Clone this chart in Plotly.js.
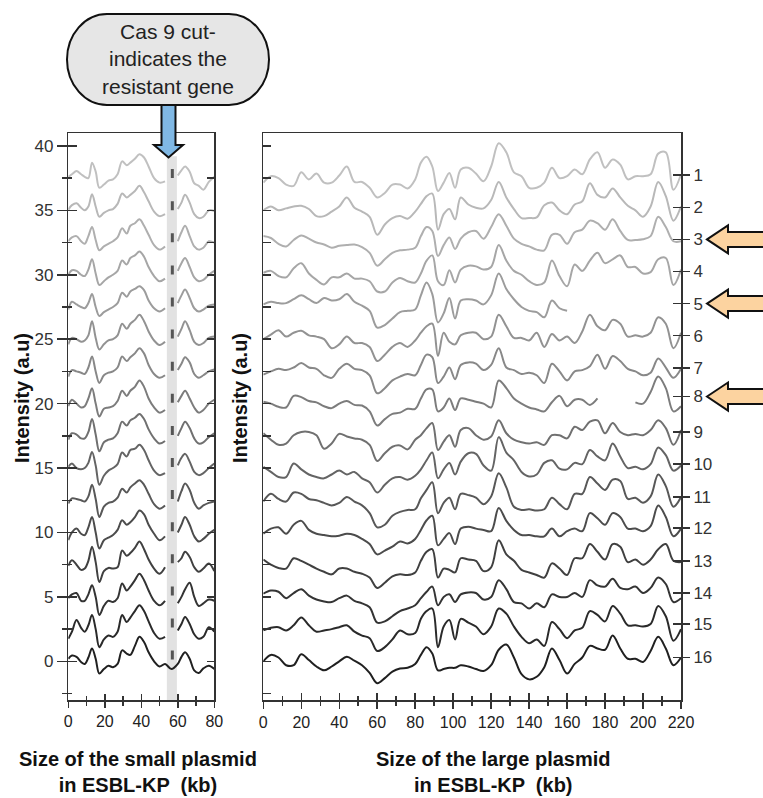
<!DOCTYPE html>
<html><head><meta charset="utf-8">
<script src="https://cdn.plot.ly/plotly-3.0.1.min.js"></script>
<style>html,body{margin:0;padding:0;background:#fff;}#chart{width:763px;height:798px;}</style>
</head><body><div id="chart"></div>
<script>
// ---------- DATA ----------
// small plasmid (left panel): size in kb, intensity relative to each sample's baseline
const smallSizeKb = [0,2,4.5,7,9,11,13,15,17,19.5,22,24.5,27,29.5,32,34,36.5,39,41.5,44,47,50,53,56.5,60,62,64,66.5,69,71.5,74,77,80];
const small01 = [0.1,0.3,0.55,0.3,0.1,0,1.2,0.5,-0.75,-0.5,-0.2,-0.1,0.3,1.3,1.0,1.2,1.5,1.85,1.6,0.9,0,-0.35,-0.25,null,0.2,0.6,0.9,0.5,-0.4,-0.6,-0.9,-0.3,0.1];
const small02 = [0.05,0.4,0.55,0.2,0,0.3,1.25,0.3,-0.5,-0.2,0,0.1,0.5,1.3,1.0,1.2,1.5,1.9,1.4,0.7,-0.1,-0.45,-0.3,null,0.1,0.6,1.2,0.6,-0.3,-0.6,-0.5,0,-0.05];
const small03 = [0.1,0.4,0.5,0.1,-0.1,0.5,1.2,0.2,-0.6,-0.3,-0.1,0.1,0.4,1.1,0.7,1.3,1.5,1.8,1.3,0.6,-0.2,-0.55,-0.3,null,0.1,0.8,1.3,0.5,-0.3,-0.55,-0.4,0.1,0];
const small04 = [0,0.35,0.3,0,-0.1,0.4,1.2,0.1,-0.8,-0.5,-0.2,0,0.3,1.1,0.8,1.3,1.5,1.8,1.4,0.6,-0.1,-0.5,-0.3,null,0.3,0.9,1.3,0.6,-0.2,-0.5,-0.4,0,0.3];
const small05 = [-0.2,0.4,0.2,0,-0.1,0.3,1.0,0,-0.7,-0.4,-0.2,0,0.3,1.1,0.8,1.2,1.4,1.6,1.3,0.5,-0.1,-0.35,-0.1,null,0.3,0.9,1.35,0.7,-0.1,-0.35,-0.2,0.1,0.2];
const small06 = [-0.4,0.1,0,-0.2,-0.1,0.3,1.4,0.1,-0.8,-0.4,-0.1,0,0.3,1.2,0.8,1.2,1.5,1.9,1.4,0.6,-0.1,-0.45,-0.2,null,0.2,0.8,1.4,0.7,-0.2,-0.45,-0.3,0.1,0.2];
const small07 = [-0.4,0.1,0,-0.1,-0.2,0.3,1.15,0,-0.9,-0.3,-0.1,0,0.3,1.15,0.8,1.1,1.4,1.8,1.4,0.5,-0.2,-0.5,-0.3,null,0.1,0.6,1.1,0.7,-0.2,-0.5,-0.3,0,0.15];
const small08 = [-0.2,0.3,0,-0.3,-0.2,0.4,1.2,0,-1.0,-0.4,-0.3,-0.2,0.2,1.0,0.6,1.0,1.3,1.8,1.3,0.4,-0.3,-0.7,-0.5,null,0.1,0.6,1.0,0.4,-0.3,-0.7,-0.5,0,0.3];
const small09 = [-0.3,0.2,0.1,-0.2,-0.2,0.3,1.3,0.1,-1.2,-0.5,-0.3,-0.2,0.2,1.1,0.8,1.2,1.4,1.7,1.3,0.5,-0.2,-0.6,-0.4,null,0,0.6,1.1,0.6,-0.2,-0.6,-0.5,-0.1,0.2];
const small10 = [0.1,0.35,0,-0.1,0,0.4,1.25,0.2,-1.3,-0.6,-0.2,0,0.3,1.2,0.9,1.4,1.5,1.8,1.4,0.6,-0.2,-0.55,-0.4,null,0.2,0.8,1.1,0.5,-0.3,-0.55,-0.4,0,0.35];
const small11 = [-0.25,0.15,0.1,0,-0.1,0.3,1.2,0.1,-1.3,-0.5,-0.2,-0.1,0.2,0.9,0.6,1.0,1.3,1.55,1.2,0.5,-0.3,-0.65,-0.4,null,-0.1,0.7,1.3,0.8,-0.2,-0.65,-0.4,-0.2,-0.1];
const small12 = [-0.6,0,0.3,-0.1,-0.2,0.4,1.2,0,-1.25,-0.6,-0.4,-0.2,0.2,0.95,0.6,0.8,1.2,1.7,1.4,0.6,-0.1,-0.6,-0.3,null,0,0.6,1.2,0.6,-0.3,-0.7,-0.5,-0.1,0.2];
const small13 = [-0.1,0.35,0,-0.4,-0.3,0.3,1.4,0.2,-1.35,-0.5,-0.25,-0.3,-0.2,1.1,0.7,0.9,1.3,1.8,1.2,0.4,-0.3,-0.7,-0.2,null,0.2,0.5,1.0,0.6,-0.2,-0.55,-0.3,0.1,-0.5];
const small14 = [-0.1,0.2,0.3,-0.3,-0.3,0.2,0.9,0,-1.4,-0.7,-0.3,-0.4,-0.1,1.05,0.5,0.8,1.3,1.8,1.3,0.5,-0.3,-0.65,-0.3,null,-0.5,0,0.6,1.1,0,-0.7,-0.5,-0.2,-0.3];
const small15 = [-0.75,-0.2,0.7,0.1,-0.2,0.3,1.1,0,-1.4,-0.8,-0.5,-0.6,-0.2,1.1,0.55,0.9,1.4,1.85,1.4,0.6,-0.3,-0.75,-0.6,null,-0.1,0.4,0.95,0.4,-0.4,-0.75,-0.6,0.15,-0.2];
const small16 = [0.2,0.45,0.35,-0.05,-0.2,0.3,1.0,0.2,-0.95,-0.6,-0.35,-0.45,-0.2,0.85,0.6,0.5,1.2,1.9,1.5,0.7,0,-0.4,-0.2,-0.6,-0.2,0.35,0.7,0.2,-0.7,-0.9,-0.55,-0.35,-0.6];

// large plasmid (right panel)
const largeSizeKb = [0,4,8,12,16,20,24,28,32,36,40,44,48,52,56,60,64,68,72,76,80,83,86,89,92,95,98,101,104,108,112,116,120,124,128,132,136,140,144,148,152,156,160,164,168,172,176,180,184,188,192,196,200,204,208,212,216,220];
const large01 = [-0.35,0.15,0,-0.5,-0.6,0.45,-0.1,0.35,-0.35,-0.35,0.2,0.9,-0.3,-0.3,-0.75,-1.5,-1.15,-0.5,-0.5,-0.8,-0.1, 1.2,1.65,0.9,-1.0,-0.35,0.4,-0.75,0.67, 0.8,0.35,-0.25,0.9,2.7,2.0,0.45,0.15,-0.75,-0.75,-0.35,0.8,0,0.15,0.67,0.3,1.45,2.0,0.8,1.45,1.05,-0.1,0.15,0.15,0.3,1.9,2.0,-0.9,0.3];
const large02 = [0,0.3,0,0.15,0.3,0.35,0.1,-0.45,-0.45,-0.1,0.3,1.0,0.2,-0.1,-0.5,-1.9,-1.1,-0.6,-0.45,-0.65,-0.1, 0.5,1.1,1.3,-1.5,-0.3,0.1,-0.7,1.0, 0.45,0.2,0.15,0.8,2.2,1.0,0.1,-0.6,-0.6,-0.55,0.4,0.6,0,-0.3,0.45,0.7,2.1,1.2,1.0,1.7,1.0,0.35,0,-0.5,0.3,2.2,1.1,-0.8,0.3];
const large03 = [0.5,0.35,-0.1,-0.3,0.2,0.55,0.3,0,-0.15,-0.4,-0.25,-0.2,-0.15,-0.35,-0.8,-1.8,-1.3,-0.8,-0.6,-0.55,-0.4, 0.5,1.2,0.9,-1.05,-0.2,0.4,-0.5,0.3, 0.8,0.9,0.3,1.2,2.2,1.3,0.3,-0.1,-0.3,-0.55,-0.6,0.6,0.6,-0.1,0.8,1.0,1.7,1.5,1.0,1.8,0.9,0.2,0.2,0.25,0.5,2.0,1.2,0.1,0.1];
const large04 = [0.15,0.3,-0.1,-0.2,0.5,0.9,0.1,-0.4,-0.75,-0.2,-0.2,0.1,-0.3,-0.3,-0.5,-1.3,-1.3,-0.6,-0.25,-0.5,-0.6, 0.1,1.1,1.5,-0.5,-0.8,0.35,-0.6,0.4, 0.7,0.65,0.4,0.6,2.3,1.1,0.3,0,-0.5,-0.8,-0.6,1.1,-0.1,-0.9,0.8,0.3,1.1,1.7,0.9,1.2,1.5,0.6,0.6,0.1,0.2,1.2,1.3,-0.8,0.4];
const large05 = [0.2,0.4,0.3,0.3,0.6,0.9,0.6,0.3,0.7,0.5,0.6,1.0,0.4,0.1,-0.3,-1.6,-1.4,-0.9,-0.4,-0.3,-0.2, 0.9,1.9,1.0,-1.2,-0.5,0.7,-0.9,0.5, 0.6,0.5,0.2,0.9,2.6,1.4,0.6,0,-0.3,-0.4,-0.8,0.5,-0.1,-0.3,null,null,null,null,null,null,null,null,null,null,null,null,null,null,null];
const large06 = [0,0.35,0.7,0.2,0.5,0.65,0.3,0.2,0,-0.7,-0.4,0.2,-0.3,-0.3,-0.6,-1.7,-1.2,-0.6,-0.3,-0.6,-0.1, 0.5,1.0,1.2,-1.3,0.5,-0.2,-0.4,0.3, 0.5,0.5,0,0.2,1.9,1.0,0.1,0.1,-0.1,0.5,-0.6,0.4,-0.1,0.2,-0.3,0.6,1.9,1.0,0.7,1.5,1.2,0.2,0.3,0.2,0.5,1.7,1.2,-0.7,0.5];
const large07 = [-0.25,0,0.2,0.1,0.3,0.65,0.3,0.2,-0.3,-0.5,0.2,0.6,0.2,0.1,-0.3,-1.7,-1.3,-0.7,-0.4,-0.2,-0.3, 0.5,1.3,1.1,-0.9,-0.4,0.3,-0.6,0.5, 0.7,0.6,0.1,0.5,1.8,0.3,0.1,-0.2,-0.1,-0.3,-0.9,0.6,0,-0.7,0,0.1,0.4,1.3,0.2,1.2,0.8,0.2,0,-0.3,-0.1,1.0,0.3,-0.5,0.2];
const large08 = [0.15,0,-0.25,-0.3,0.6,0.5,0.2,0.1,-0.2,-0.35,0,0.2,-0.1,-0.15,-0.6,-1.7,-1.2,-0.8,-0.7,-0.4,-0.4, 0.4,1.1,1.1,-0.6,-0.3,0.4,-0.5,0.4, 0.3,0.15,0,-0.3,1.8,1.2,0.4,0,-0.3,-0.45,-0.6,0.1,0.6,-0.2,0.3,0.3,-0.1,0.4,null,null,null,null,0.1,0,0.9,2.1,1.2,-0.6,-0.2];
const large09 = [0.2,-0.3,-0.7,-0.6,0.05,0.3,0.3,0.05,-1.0,-0.6,0.15,-0.05,-0.2,-0.3,-0.7,-1.95,-1.35,-0.85,-0.75,-1.05,-0.3, 0.05,0.6,1.0,-1.1,-0.45,0.05,-0.85,0.45, 0.6,0.05,-0.3,-0.05,1.2,0.2,-0.3,-0.5,-0.6,-0.5,-0.7,0.05,0.05,-0.2,0.7,0.45,1.1,1.2,0.2,1.0,0.3,0.05,0.15,0.05,0.45,1.2,0.6,-0.7,0.45];
const large10 = [0.1,-0.3,-0.7,-0.7,0.35,-0.1,-0.5,-0.7,-0.8,-0.5,-0.2,-0.5,-0.3,-0.8,-1.1,-1.9,-1.3,-0.8,-0.7,-0.9,-0.6, -0.1,0.6,1.2,-0.8,-0.1,0.4,-0.5,0.5, 1.15,1.1,0.2,-0.2,2.4,1.2,0.6,-0.3,-0.65,-0.5,0.4,0.6,-0.05,-0.1,0.4,0.3,1.4,0.9,0.6,1.9,0.9,0,0.1,-0.1,0.3,1.6,1.0,-0.2,0.2];
const large11 = [-0.1,0.5,0.1,-0.1,0.6,0.5,0.1,0,-0.2,-0.4,-0.2,0.25,-0.1,-0.4,-1.0,-2.1,-1.9,-1.2,-0.9,-0.75,-0.7, 0.15,0.8,1.4,-1.0,-0.2,0.2,-0.7,0.5, 0.4,0.2,-0.3,0.3,2.1,1.0,-0.5,-0.75,-0.7,-0.8,-0.7,0.2,-0.3,-0.7,0.5,0.5,1.8,1.3,0.8,1.6,1.5,0.1,0.2,-0.2,0.3,2.0,1.1,-0.5,0.25];
const large12 = [-0.1,0.3,0.4,-0.1,0.6,0.9,0.2,-0.1,-0.2,-0.3,-0.25,-0.1,-0.2,-0.5,-0.9,-1.7,-1.4,-1.1,-0.7,-0.85,-0.5, 0.2,0.95,1.3,-1.0,-0.5,-0.05,-0.9,0.3, 0.45,0.3,0.2,0.1,1.9,0.9,0.2,-0.2,-0.2,-0.3,-0.3,0.3,-0.3,0.1,0.3,0.1,1.5,1.1,0.6,1.5,1.2,0.3,0.3,0.1,0.5,2.1,1.2,-0.3,0.3];
const large13 = [0.4,0,-0.25,-0.3,0.5,0.3,0,-0.3,-0.55,-0.75,-0.3,-0.3,-0.55,-0.7,-1.0,-1.8,-1.4,-0.9,-0.75,-0.8,-0.6, 0.3,1.0,1.2,-1.0,-0.3,-0.4,-0.6,0.5, 0.4,0.3,-0.5,-0.2,1.9,0.8,0.3,-0.4,-0.6,-0.8,-1.0,0.1,-0.3,-0.8,0.5,0.5,1.6,1.0,0.4,1.6,1.4,0.2,0.4,0,0.4,1.2,1.6,0.3,0.2];
const large14 = [0.25,0.5,0.4,-0.1,0.3,0.6,0.1,-0.2,-0.35,-0.4,-0.1,0.1,-0.3,-0.5,-0.8,-2.0,-1.9,-1.5,-1.1,-0.9,-0.65, -0.1,0.4,0.8,-0.65,0,0.2,-0.4,0.2, 0.35,0.3,-0.2,0,1.3,0.6,-0.4,-0.5,-0.9,-0.5,-0.8,0.2,0,0,0.3,0,1.3,0.9,0.8,1.4,0.7,0.6,0.8,0.3,0.7,1.5,1.0,-0.4,-0.1];
const large15 = [-0.1,0.1,0.15,-0.1,0.3,0.9,0.3,-0.2,-0.1,0,0.15,0.3,-0.2,-0.5,-0.7,-1.7,-1.4,-0.8,-0.1,-0.4,-0.3, 0.8,1.4,1.6,-1.4,0.2,0.7,-0.8,0.8, 0.5,0.2,-0.4,0.2,1.6,1.2,0.2,-0.6,-1.1,-0.8,-1.3,0.55,0,-0.7,-0.1,0.1,1.4,1.1,0.6,1.8,1.2,0.3,0.3,0.2,0.4,1.8,1.0,-0.9,0];
const large16 = [0,0.5,0.3,-0.3,-0.3,0.55,0.1,-0.4,-0.7,-0.4,0,0.35,0.05,-0.3,-0.9,-1.7,-1.3,-0.8,-0.55,-0.5,-0.2, 0.5,1.1,0.6,-0.7,-0.6,-0.5,-0.5,-0.3, -0.4,-0.6,-0.75,-0.3,0.9,1.3,0.3,-1.0,-1.4,-1.2,-0.45,1.0,0.1,-0.95,-0.2,0.3,1.2,1.0,0.9,2.0,1.0,0.2,0.2,-0.05,0.8,1.9,1.0,-0.3,0.3];

// sample stacking baselines (top sample first) and right-hand sample labels
const sampleBaselines = [37.5,35,32.5,30,27.5,25,22.5,20,17.5,15,12.5,10,7.5,5,2.5,0];
const sampleLabels = ['1','2','3','4','5','6','7','8','9','10','11','12','13','14','15','16'];
const sampleLabelPos = [37.74,35.23,32.74,30.25,27.76,25.27,22.78,20.55,17.81,15.30,12.75,10.34,7.78,5.29,2.88,0.31];
const markedSamples = [3,5,8];
const cutSiteKb = 57;
const cutBandKb = [54,59.5];
const yTickVals = [0,5,10,15,20,25,30,35,40];
const yMinorVals = [-2.5,2.5,7.5,12.5,17.5,22.5,27.5,32.5,37.5];
const smallXTicks = [0,20,40,60,80];
const smallXMinor = [10,30,50,70];
const largeXTicks = [0,20,40,60,80,100,120,140,160,180,200,220];
const largeXMinor = [10,30,50,70,90,110,130,150,170,190,210];
const innerTicks = [-2.5,0,2.5,5,7.5,10,12.5,15,17.5,20,22.5,25,27.5,30,32.5,35,37.5,40];

const smallSeries = [small01,small02,small03,small04,small05,small06,small07,small08,small09,small10,small11,small12,small13,small14,small15,small16];
const largeSeries = [large01,large02,large03,large04,large05,large06,large07,large08,large09,large10,large11,large12,large13,large14,large15,large16];

// ---------- STYLE / LAYOUT ----------
const W = 763, H = 798;
const grays = [192,184,175,166,156,146,136,124,112,100,88,76,64,52,42,32];
const YR = [-3, 41];
const plotTop = 133, plotBottom = 700;
const yDom = [1 - plotBottom/H, 1 - plotTop/H];
const xDomSmall = [68.3/W, 214.3/W];
const xDomLarge = [263.3/W, 681/W];
const lineC = '#333';
const sans = '"Liberation Sans", Arial, sans-serif';

function P(x, y){ return (x/W).toFixed(5) + ',' + (1 - y/H).toFixed(5); }
function yPix(v){ return plotBottom - (v - YR[0])/(YR[1]-YR[0])*(plotBottom-plotTop); }

const traces = [];
smallSeries.forEach((s, i) => {
  const g = grays[i];
  traces.push({type:'scatter', mode:'lines', x: smallSizeKb, y: s.map(v => v === null ? null : v + sampleBaselines[i]),
    xaxis:'x', yaxis:'y', line:{color:`rgb(${g},${g},${g})`, width:2, shape:'spline', smoothing:1}, hoverinfo:'skip', showlegend:false});
});
largeSeries.forEach((s, i) => {
  const g = grays[i];
  traces.push({type:'scatter', mode:'lines', x: largeSizeKb, y: s.map(v => v === null ? null : v + sampleBaselines[i]),
    xaxis:'x2', yaxis:'y2', line:{color:`rgb(${g},${g},${g})`, width:2, shape:'spline', smoothing:1}, hoverinfo:'skip', showlegend:false});
});
// empty traces so overlay axes are drawn
[['x3','y'],['x','y3'],['x','y5'],['x4','y2'],['x2','y4'],['x2','y6']].forEach(([xa,ya]) => {
  traces.push({type:'scatter', mode:'lines', x:[null], y:[null], xaxis:xa, yaxis:ya, showlegend:false, hoverinfo:'skip'});
});

const baseAx = {showgrid:false, zeroline:false, fixedrange:true, tickcolor:lineC, tickwidth:1.5};

const layout = {
  width: W, height: H, margin:{l:0,r:0,t:0,b:0}, paper_bgcolor:'#fff', plot_bgcolor:'rgba(0,0,0,0)',
  showlegend:false, font:{family:sans, color:'#222'},
  xaxis: Object.assign({}, baseAx, {domain:xDomSmall, range:[0,80], anchor:'y', showline:true, linecolor:lineC, linewidth:1.5, mirror:true,
    tickmode:'array', tickvals:smallXTicks, ticks:'outside', ticklen:6,
    minor:{tickmode:'array', tickvals:smallXMinor, ticks:'outside', ticklen:4, tickcolor:lineC, tickwidth:1.5},
    tickfont:{family:sans, size:16, color:'#222'}}),
  xaxis3: Object.assign({}, baseAx, {overlaying:'x', anchor:'y', side:'bottom', range:[0,80], showline:false, showticklabels:false,
    tickmode:'array', tickvals:smallXTicks, ticks:'inside', ticklen:6,
    minor:{tickmode:'array', tickvals:smallXMinor, ticks:'inside', ticklen:4, tickcolor:lineC, tickwidth:1.5}}),
  yaxis: Object.assign({}, baseAx, {domain:yDom, range:YR, anchor:'x', showline:true, linecolor:lineC, linewidth:1.5, mirror:true,
    tickmode:'array', tickvals:yTickVals, ticks:'outside', ticklen:10,
    minor:{tickmode:'array', tickvals:yMinorVals, ticks:'outside', ticklen:5, tickcolor:lineC, tickwidth:1.5},
    tickfont:{family:sans, size:17, color:'#333'}}),
  yaxis3: Object.assign({}, baseAx, {overlaying:'y', anchor:'x', side:'left', range:YR, showline:false, showticklabels:false,
    tickmode:'array', tickvals:yTickVals, ticks:'inside', ticklen:9,
    minor:{tickmode:'array', tickvals:yMinorVals, ticks:'inside', ticklen:4, tickcolor:lineC, tickwidth:1.5}}),
  yaxis5: Object.assign({}, baseAx, {overlaying:'y', anchor:'x', side:'right', range:YR, showline:false, showticklabels:false,
    tickmode:'array', tickvals:sampleBaselines, ticks:'inside', ticklen:7}),
  xaxis2: Object.assign({}, baseAx, {domain:xDomLarge, range:[0,220], anchor:'y2', showline:true, linecolor:lineC, linewidth:1.5, mirror:true,
    tickmode:'array', tickvals:largeXTicks, ticks:'outside', ticklen:7,
    minor:{tickmode:'array', tickvals:largeXMinor, ticks:'outside', ticklen:4, tickcolor:lineC, tickwidth:1.5},
    tickfont:{family:sans, size:16, color:'#222'}}),
  xaxis4: Object.assign({}, baseAx, {overlaying:'x2', anchor:'y2', side:'bottom', range:[0,220], showline:false, showticklabels:false,
    tickmode:'array', tickvals:largeXTicks, ticks:'inside', ticklen:7,
    minor:{tickmode:'array', tickvals:largeXMinor, ticks:'inside', ticklen:4, tickcolor:lineC, tickwidth:1.5}}),
  yaxis2: Object.assign({}, baseAx, {domain:yDom, range:YR, anchor:'x2', showline:true, linecolor:lineC, linewidth:1.5, mirror:true,
    tickmode:'array', tickvals:innerTicks, ticks:'inside', ticklen:8, showticklabels:false}),
  yaxis4: Object.assign({}, baseAx, {overlaying:'y2', anchor:'x2', side:'right', range:YR, showline:false,
    tickmode:'array', tickvals:sampleLabelPos, ticktext:sampleLabels, ticks:'outside', ticklen:8,
    tickfont:{family:sans, size:17, color:'#333'}}),
  yaxis6: Object.assign({}, baseAx, {overlaying:'y2', anchor:'x2', side:'right', range:YR, showline:false, showticklabels:false,
    tickmode:'array', tickvals:sampleLabelPos, ticks:'inside', ticklen:8}),
  shapes: [],
  annotations: []
};

// Cas9 cut band and cut marks
layout.shapes.push({type:'rect', xref:'x', yref:'y', x0:cutBandKb[0], x1:cutBandKb[1], y0:YR[0], y1:39.2,
  fillcolor:'#e2e2e2', line:{width:0}, layer:'below'});
layout.shapes.push({type:'line', xref:'x', yref:'y', x0:cutSiteKb, x1:cutSiteKb, y0:38.2, y1:-0.3,
  line:{color:'#555', width:3, dash:'9px,23.1px'}, layer:'above'});

// callout bubble + blue arrow
const bx0=67, bx1=269, by0=14, by1=105, rx=40, ry=(by1-by0)/2, k=0.5523, my=(by0+by1)/2;
const arrowPath = 'M'+P(161.5,104)+' L'+P(175.5,104)+' L'+P(175.5,145)+' L'+P(183,145)+' L'+P(168.5,157.5)+' L'+P(154,145)+' L'+P(161.5,145)+' Z';
layout.shapes.push({type:'path', xref:'paper', yref:'paper', path:arrowPath, fillcolor:'#80b8e4', line:{color:'#111', width:2}});
const bubblePath = 'M'+P(bx0+rx,by0)+' L'+P(bx1-rx,by0)+
  ' C'+P(bx1-rx+k*rx,by0)+' '+P(bx1,my-k*ry)+' '+P(bx1,my)+
  ' C'+P(bx1,my+k*ry)+' '+P(bx1-rx+k*rx,by1)+' '+P(bx1-rx,by1)+
  ' L'+P(bx0+rx,by1)+
  ' C'+P(bx0+rx-k*rx,by1)+' '+P(bx0,my+k*ry)+' '+P(bx0,my)+
  ' C'+P(bx0,my-k*ry)+' '+P(bx0+rx-k*rx,by0)+' '+P(bx0+rx,by0)+' Z';
layout.shapes.push({type:'path', xref:'paper', yref:'paper', path:bubblePath, fillcolor:'#e6e6e6', line:{color:'#111', width:2}});
layout.annotations.push({xref:'paper', yref:'paper', x:168/W, y:1-59/H, xanchor:'center', yanchor:'middle', showarrow:false,
  text:'Cas 9 cut-<br>indicates the<br>resistant gene', font:{family:sans, size:21, color:'#222'}, align:'center'});

// orange arrows marking samples
markedSamples.forEach(n => {
  const yc = yPix(sampleLabelPos[n-1]);
  const p = 'M'+P(707,yc)+' L'+P(728,yc-14)+' L'+P(728,yc-7.5)+' L'+P(775,yc-7.5)+' L'+P(775,yc+7.5)+' L'+P(728,yc+7.5)+' L'+P(728,yc+14)+' Z';
  layout.shapes.push({type:'path', xref:'paper', yref:'paper', path:p, fillcolor:'#fcd3a0', line:{color:'#111', width:2}});
});

// axis titles
layout.annotations.push({xref:'paper', yref:'paper', x:22/W, y:1-398/H, textangle:-90, showarrow:false, xanchor:'center', yanchor:'middle',
  text:'<b>Intensity (a.u)</b>', font:{family:sans, size:20, color:'#111'}});
layout.annotations.push({xref:'paper', yref:'paper', x:240/W, y:1-398/H, textangle:-90, showarrow:false, xanchor:'center', yanchor:'middle',
  text:'<b>Intensity (a.u)</b>', font:{family:sans, size:20, color:'#111'}});
layout.annotations.push({xref:'paper', yref:'paper', x:138/W, y:1-772/H, showarrow:false, xanchor:'center', yanchor:'middle', align:'center',
  text:'<b>Size of the small plasmid<br>in ESBL-KP  (kb)</b>', font:{family:sans, size:20, color:'#111'}});
layout.annotations.push({xref:'paper', yref:'paper', x:493/W, y:1-772/H, showarrow:false, xanchor:'center', yanchor:'middle', align:'center',
  text:'<b>Size of the large plasmid<br>in ESBL-KP  (kb)</b>', font:{family:sans, size:20, color:'#111'}});

Plotly.newPlot('chart', traces, layout, {staticPlot:true, displayModeBar:false});
</script>
</body></html>
